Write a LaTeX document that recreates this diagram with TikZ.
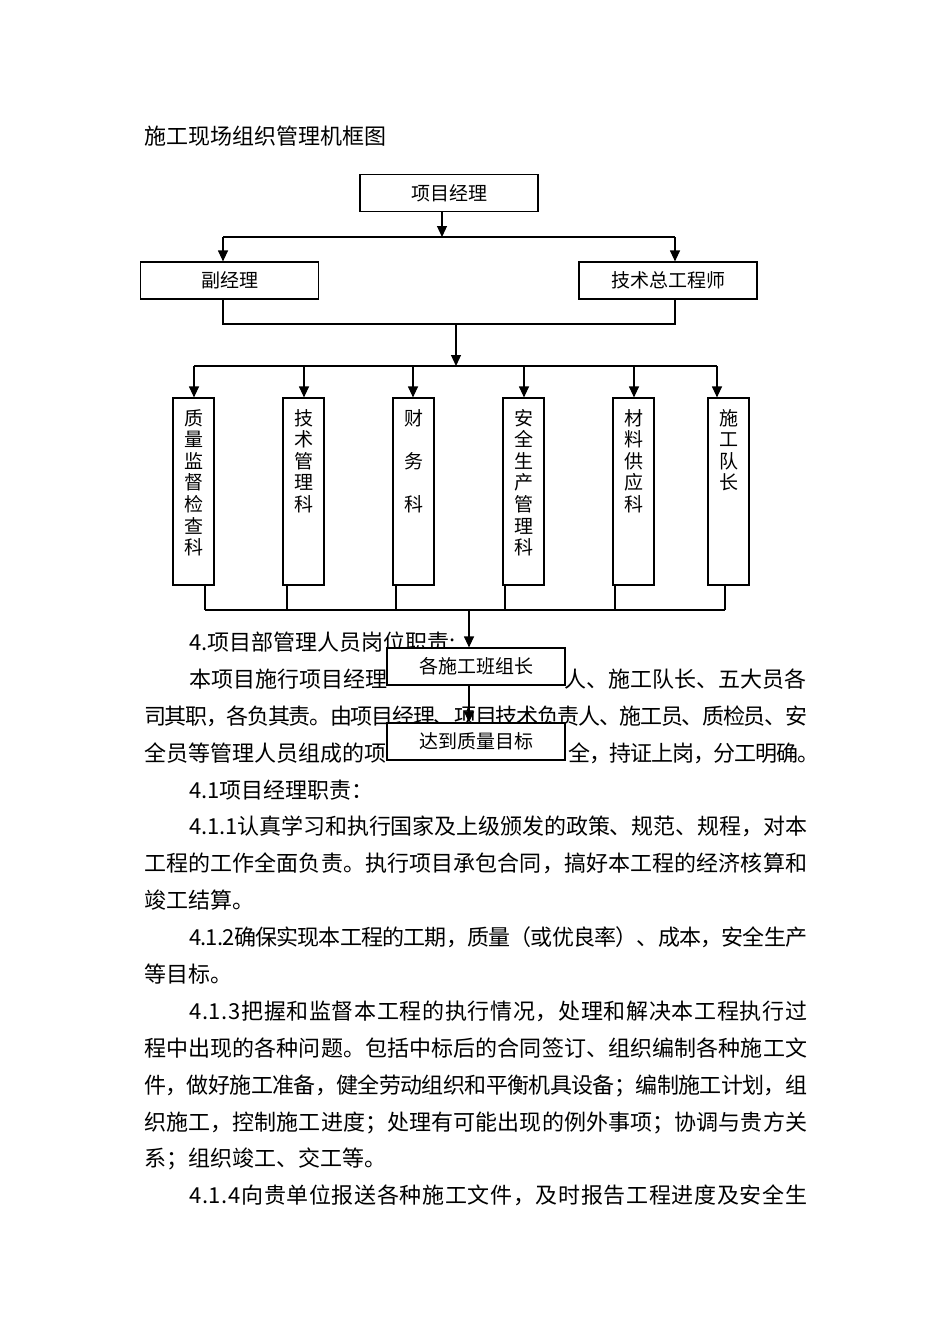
\documentclass[tikz,border=0pt]{standalone}
\usepackage{fontspec}
\setmainfont{Noto Sans CJK SC}
\usetikzlibrary{positioning,arrows.meta}
\newcommand\bodyfont{\fontsize{22pt}{26pt}\selectfont}
\newcommand\boxfont{\fontsize{19pt}{21.6pt}\selectfont}
\makeatletter
\newcommand\jline[2]{\hbox to #1{\@tfor\jl@c:=#2\do{\jl@c\hskip 0pt plus 4pt minus 3pt}\unskip}}
\makeatother

\begin{document}
\begin{tikzpicture}[x=1pt,y=-1pt,node distance=110pt,on grid,
  line/.style={line width=1.2pt},
  arr/.style={line,-{Triangle[width=10pt,length=11pt]}},
  hbox/.style={draw,line width=1.2pt,fill=white,minimum width=178pt,minimum height=37pt,inner sep=0pt,font=\boxfont},
  vbox/.style 2 args={draw,line width=1.2pt,fill=white,minimum width=41pt,inner sep=0pt,align=center,text height=#1,text depth=#2,font=\boxfont},
  txt/.style={anchor=base west,inner sep=0pt,font=\bodyfont}]
  \fill[white] (0,0) rectangle (950,1344);
  \useasboundingbox (0,0) rectangle (950,1344);

  \node[txt] (title) at (144,144) {施工现场组织管理机框图};
  \node[txt] (l0) at (189,650) {4.项目部管理人员岗位职责:};
  \node[txt] (l1a) at (189,687) {本项目施行项目经理};
  \node[txt,anchor=base east] (l1b) at (807,687) {\jline{242pt}{人、施工队长、五大员各}};
  \node[txt] (l2) at (144,724) {\jline{663pt}{司其职，各负其责。由项目经理、项目技术负责人、施工员、质检员、安}};
  \node[txt] (l3a) at (144,761) {全员等管理人员组成的项};
  \node[txt] (l3b) at (568,761) {\jline{251pt}{全，持证上岗，分工明确。}};
  \node[txt] (l4) at (189,798) {4.1项目经理职责：};
  \node[txt] (l5) at (189,834) {\jline{618pt}{4.1.1认真学习和执行国家及上级颁发的政策、规范、规程，对本}};
  \node[txt] (l6) at (144,871) {\jline{663pt}{工程的工作全面负责。执行项目承包合同，搞好本工程的经济核算和}};
  \node[txt] (l7) at (144,908) {竣工结算。};
  \node[txt] (l8) at (189,945) {\jline{618pt}{4.1.2确保实现本工程的工期，质量（或优良率）、成本，安全生产}};
  \node[txt] (l9) at (144,982) {等目标。};
  \node[txt] (l10) at (189,1019) {\jline{618pt}{4.1.3把握和监督本工程的执行情况，处理和解决本工程执行过}};
  \node[txt] (l11) at (144,1056) {\jline{663pt}{程中出现的各种问题。包括中标后的合同签订、组织编制各种施工文}};
  \node[txt] (l12) at (144,1093) {\jline{663pt}{件，做好施工准备，健全劳动组织和平衡机具设备；编制施工计划，组}};
  \node[txt] (l13) at (144,1130) {\jline{663pt}{织施工，控制施工进度；处理有可能出现的例外事项；协调与贵方关}};
  \node[txt] (l14) at (144,1166) {系；组织竣工、交工等。};
  \node[txt] (l15) at (189,1203) {\jline{618pt}{4.1.4向贵单位报送各种施工文件，及时报告工程进度及安全生}};

  \node[hbox] (pm) at (449,193) {项目经理};
  \node[hbox] (vm) at (229.5,280.5) {副经理};
  \node[hbox] (te) at (668,280.5) {技术总工程师};
  \node[vbox={156.6pt}{30.4pt}] (d1) at (193.5,491.5) {质\\量\\监\\督\\检\\查\\科};
  \node[vbox={113.4pt}{73.6pt}] (d2) [right=of d1] {技\\术\\管\\理\\科};
  \node[vbox={113.4pt}{73.6pt}] (d3) [right=of d2] {财\\[21.6pt]务\\[21.6pt]科};
  \node[vbox={156.6pt}{30.4pt}] (d4) [right=of d3] {安\\全\\生\\产\\管\\理\\科};
  \node[vbox={113.4pt}{73.6pt}] (d5) [right=of d4] {材\\料\\供\\应\\科};
  \node[vbox={91.8pt}{95.2pt}] (d6) [right=95pt of d5] {施\\工\\队\\长};
  \node[hbox] (g1) at (476,666.5) {各施工班组长};
  \node[hbox] (g2) at (476,741.5) {达到质量目标};

  \coordinate (s1) at (442,237);
  \coordinate (t1) at (223,237);
  \coordinate (t2) at (675,237);
  \draw[arr] (pm.south -| s1) -- (s1);
  \draw[line] (t1) -- (t2);
  \draw[arr] (t1) -- (t1 |- vm.north);
  \draw[arr] (t2) -- (t2 |- te.north);
  \coordinate (u1) at (223,324);
  \coordinate (u2) at (675,324);
  \coordinate (u3) at (456,324);
  \coordinate (w0) at (456,366);
  \draw[line] (u1 |- vm.south) -- (u1) -- (u2) -- (u2 |- te.south);
  \draw[arr] (u3) -- (w0);
  \coordinate (w1) at (194,366);
  \coordinate (w2) at (717,366);
  \draw[line] (w1) -- (w2);
  \foreach \n/\x in {d1/194,d2/304,d3/413,d4/524,d5/634,d6/717}
    \draw[arr] ({\x},366) -- ({\x},0 |- \n.north);
  \foreach \n/\x in {d1/205,d2/287,d3/396,d4/505,d5/615,d6/725}
    \draw[line] ({\x},0 |- \n.south) -- ({\x},610);
  \coordinate (v1) at (205,610);
  \coordinate (v2) at (725,610);
  \coordinate (v3) at (469,610);
  \draw[line] (v1) -- (v2);
  \draw[arr] (v3) -- (v3 |- g1.north);
  \draw[arr] (v3 |- g1.south) -- (v3 |- g2.north);
\end{tikzpicture}
\end{document}
